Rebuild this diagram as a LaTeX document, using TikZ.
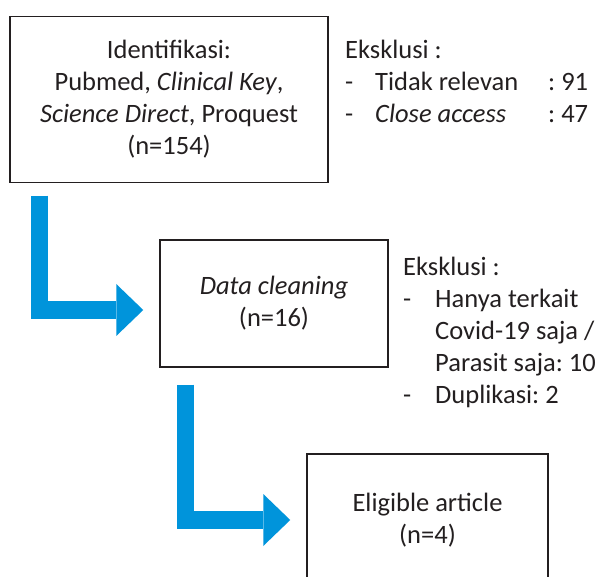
\documentclass[tikz,border=0pt]{standalone}
\usepackage{fontspec}
\setmainfont{Carlito}
\frenchspacing
\usetikzlibrary{arrows.meta}
\definecolor{flowblue}{RGB}{0,148,219}
\definecolor{ink}{RGB}{35,31,32}
\tikzset{
  box/.style={draw=ink, line width=1.5pt, text=ink, align=center, inner sep=0pt, font=\fontsize{26.5}{32}\selectfont},
  note/.style={text=ink, inner sep=0pt, anchor=base west, font=\fontsize{26.5}{32}\selectfont},
  flow/.style={flowblue, line width=17.5pt, -{Triangle[length=27pt,width=52pt,line width=0pt]}, shorten >=16pt}
}
\begin{document}
\begin{tikzpicture}[x=1pt,y=-1pt]
	%%%%% START %%%%%
	\useasboundingbox (0,0) rectangle (600,577);
	
	\node[box, minimum width=318pt, minimum height=166pt] (idf) at (169,99.5)
		{Identifikasi:\\Pubmed, \textit{Clinical Key},\\\textit{Science Direct}, Proquest\\(n=154)};
	\node[box, minimum width=228pt, minimum height=127pt] (clean) at (274,303.5)
		{\textit{Data cleaning}\\(n=16)};
	\node[box, minimum width=241pt, minimum height=132pt] (elig) at (427.5,520)
		{Eligible article\\(n=4)};
	
	\node[note] (exc1) at (345,59) {\begin{tabular}[t]{@{}p{30pt}@{}p{173pt}@{}l@{}}
		\multicolumn{3}{@{}l@{}}{Eksklusi :}\\
		- & Tidak relevan & : 91\\
		- & \textit{Close access} & : 47
	\end{tabular}};
	\node[note] (exc2) at (403,276) {\begin{tabular}[t]{@{}p{32pt}@{}l@{}}
		\multicolumn{2}{@{}l@{}}{Eksklusi :}\\
		- & Hanya terkait\\
		 & Covid-19 saja /\\
		 & Parasit saja: 10\\
		- & Duplikasi: 2
	\end{tabular}};
	
	\draw[flow] ([xshift=30pt,yshift=-12.5pt]idf.south west) |- ([yshift=-6.5pt]clean.west);
	\draw[flow] ([xshift=26pt,yshift=-17pt]clean.south west) |- (elig.west);
	
	%%%%% END %%%%%
\end{tikzpicture}
\end{document}
